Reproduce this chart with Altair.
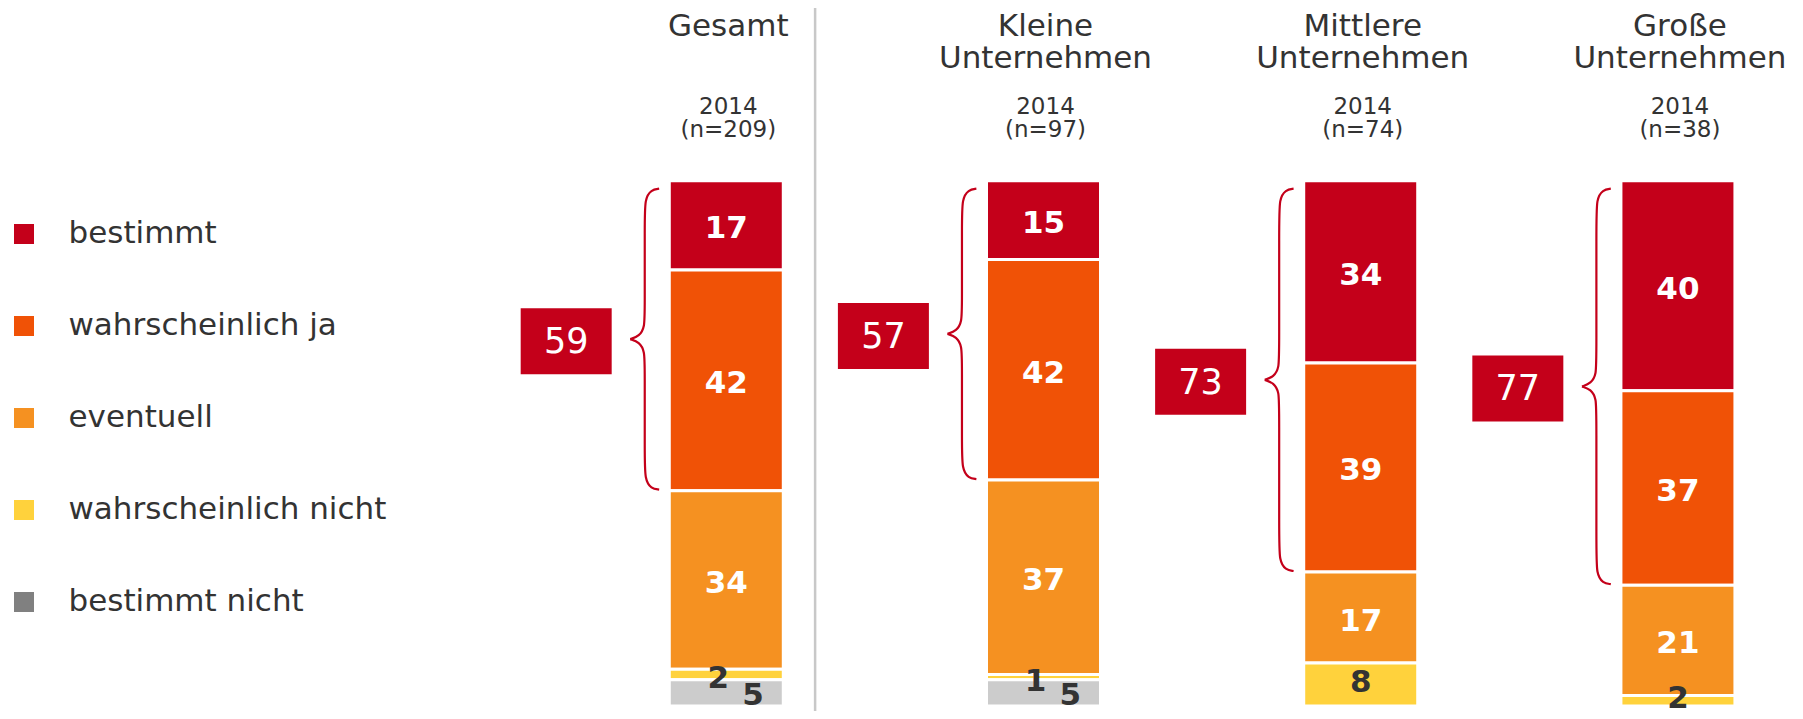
import altair as alt
import pandas as pd

# ---------------- data ----------------
groups = ["Gesamt", "Kleine Unternehmen", "Mittlere Unternehmen", "Große Unternehmen"]
title_line1 = ["Gesamt", "Kleine", "Mittlere", "Große"]
title_line2 = ["", "Unternehmen", "Unternehmen", "Unternehmen"]
years = ["2014", "2014", "2014", "2014"]
sample_sizes = [209, 97, 74, 38]

categories = ["bestimmt", "wahrscheinlich ja", "eventuell", "wahrscheinlich nicht", "bestimmt nicht"]
bestimmt = [17, 15, 34, 40]
wahrscheinlich_ja = [42, 42, 39, 37]
eventuell = [34, 37, 17, 21]
wahrscheinlich_nicht = [2, 1, 8, 2]
bestimmt_nicht = [5, 5, None, None]
top_two = [59, 57, 73, 77]

bar_colors = ["#C4001A", "#F05206", "#F59121", "#FFD23C", "#CCCCCC"]
legend_colors = ["#C4001A", "#F05206", "#F59121", "#FFD23C", "#808080"]
RED = "#C4001A"
DARK = "#333333"
FONT = "DejaVu Sans"

# ---------------- layout constants ----------------
W, H = 1787, 703          # whole chart (padding 0, autosize none)
STEP = 319.0              # px between group centres
X0 = 717.3                # px of first group centre
PXY = 525.3               # px for 100 %
Y0 = 172.7                # px of bar top
BAR_W = 111
LBL_DY = 4

xs = alt.Scale(domain=[-X0 / STEP, (W - X0) / STEP], nice=False, zero=False)
ys = alt.Scale(domain=[-Y0 / PXY, (H - Y0) / PXY], nice=False, zero=False, reverse=True)

# ---------------- long table ----------------
series = [bestimmt, wahrscheinlich_ja, eventuell, wahrscheinlich_nicht, bestimmt_nicht]
rows = []
for gi, g in enumerate(groups):
    for ci, cat in enumerate(categories):
        v = series[ci][gi]
        if v is not None:
            rows.append(dict(group=g, slot=gi, cat=cat, order=ci, value=v))
df = pd.DataFrame(rows)

base = alt.Chart(df).transform_joinaggregate(
    nseg="count()", groupby=["group"]
).transform_stack(
    stack="value", groupby=["group"], as_=["y0", "y1"],
    sort=[alt.SortField("order", order="ascending")], offset="normalize"
).transform_calculate(ym="(datum.y0 + datum.y1) / 2")

bars = base.mark_bar(size=BAR_W + 3, stroke="white", strokeWidth=3).encode(
    x=alt.X("slot:Q", scale=xs, axis=None),
    y=alt.Y("y0:Q", scale=ys, axis=None),
    y2="y1:Q",
    color=alt.Color("cat:N", scale=alt.Scale(domain=categories, range=bar_colors), legend=None),
)

big_labels = base.transform_filter(
    alt.FieldOneOfPredicate(field="cat", oneOf=categories[:3])
).mark_text(font=FONT, fontSize=31, fontWeight="bold", color="white", baseline="middle", dy=LBL_DY).encode(
    x=alt.X("slot:Q", scale=xs, axis=None),
    y=alt.Y("ym:Q", scale=ys, axis=None),
    text="value:Q",
)

# "wahrscheinlich nicht": shifted left when a "bestimmt nicht" label sits beside it
wn_side = base.transform_filter(
    (alt.datum.cat == "wahrscheinlich nicht") & (alt.datum.nseg > 4)
).transform_calculate(
    lx=f"datum.slot - 8 / {STEP}"
).mark_text(font=FONT, fontSize=31, fontWeight="bold", color=DARK, baseline="middle", dy=5).encode(
    x=alt.X("lx:Q", scale=xs, axis=None),
    y=alt.Y("ym:Q", scale=ys, axis=None),
    text="value:Q",
)
wn_centre = base.transform_filter(
    (alt.datum.cat == "wahrscheinlich nicht") & (alt.datum.nseg <= 4)
).mark_text(font=FONT, fontSize=31, fontWeight="bold", color=DARK, baseline="middle", dy=-2).encode(
    x=alt.X("slot:Q", scale=xs, axis=None),
    y=alt.Y("ym:Q", scale=ys, axis=None),
    text="value:Q",
)

bn_labels = base.transform_filter(
    alt.datum.cat == "bestimmt nicht"
).transform_calculate(
    lx=f"datum.slot + 27 / {STEP}"
).mark_text(font=FONT, fontSize=31, fontWeight="bold", color=DARK, baseline="middle", dy=3).encode(
    x=alt.X("lx:Q", scale=xs, axis=None),
    y=alt.Y("ym:Q", scale=ys, axis=None),
    text="value:Q",
)

# ---------------- boxes & braces ----------------
box_rows, brace_rows = [], []
for gi, g in enumerate(groups):
    total = sum(s[gi] for s in series if s[gi] is not None)
    yes = (bestimmt[gi] + wahrscheinlich_ja[gi]) / total
    ytop = 8 / PXY
    ybot = yes - 1 / PXY
    ymid = (ytop + ybot) / 2
    left = gi - (BAR_W / 2) / STEP
    box_rows.append(dict(group=g, bx=gi - 161 / STEP, yc=ymid + 2 / PXY,
                         by0=ymid + 2 / PXY - 33 / PXY, by1=ymid + 2 / PXY + 33 / PXY,
                         label=str(top_two[gi])))
    shape = [(-12, 0), (-20, 1), (-26.5, 10), (-26.5, 35), (-26.5, None, -30),
             (-26.5, None, -12), (-32, None, -3), (-41, None, 0)]
    for half, sign in (("top", 1), ("bot", -1)):
        for k, p in enumerate(shape):
            dx = p[0]
            if p[1] is not None:
                yy = (ytop + p[1] / PXY) if sign == 1 else (ybot - p[1] / PXY)
            else:
                yy = ymid + sign * p[2] / PXY
            brace_rows.append(dict(bid=f"{g}-{half}", k=k, bxp=left + dx / STEP, byp=yy))

box_df = pd.DataFrame(box_rows)
brace_df = pd.DataFrame(brace_rows)

boxes = alt.Chart(box_df).mark_bar(size=91, color=RED).encode(
    x=alt.X("bx:Q", scale=xs, axis=None),
    y=alt.Y("by0:Q", scale=ys, axis=None),
    y2="by1:Q",
)
box_text = alt.Chart(box_df).mark_text(font=FONT, fontSize=35, color="white", baseline="middle", dy=1).encode(
    x=alt.X("bx:Q", scale=xs, axis=None),
    y=alt.Y("yc:Q", scale=ys, axis=None),
    text="label:N",
)
braces = alt.Chart(brace_df).mark_line(interpolate="basis", color=RED, strokeWidth=2.2).encode(
    x=alt.X("bxp:Q", scale=xs, axis=None),
    y=alt.Y("byp:Q", scale=ys, axis=None),
    detail="bid:N",
    order="k:Q",
)

# ---------------- separator ----------------
sep = alt.Chart(pd.DataFrame({"sx": [0.28]})).mark_rule(color="#C8C8C8", strokeWidth=2.5).encode(
    x=alt.X("sx:Q", scale=xs, axis=None),
    y=alt.value(0),
    y2=alt.value(H),
)

# ---------------- titles ----------------
title_df = pd.DataFrame({
    "slot": list(range(len(groups))),
    "t1": title_line1,
    "t2": title_line2,
    "year": years,
    "n": [f"(n={n})" for n in sample_sizes],
})


def title_text(field, y, size):
    return alt.Chart(title_df).mark_text(
        font=FONT, fontSize=size, color=DARK, baseline="alphabetic", align="center", dx=2
    ).encode(x=alt.X("slot:Q", scale=xs, axis=None), y=alt.value(y), text=f"{field}:N")


t1 = title_text("t1", 28.2, 31)
t2 = title_text("t2", 60.2, 31)
sub_year = title_text("year", 105.5, 23)
sub_n = title_text("n", 129, 23)

# ---------------- legend ----------------
legend_layer = alt.Chart(pd.DataFrame({"cat": categories})).mark_square(opacity=0).encode(
    color=alt.Color(
        "cat:N",
        scale=alt.Scale(domain=categories, range=legend_colors),
        sort=categories,
        legend=alt.Legend(
            orient="none", legendX=0.5, legendY=210.5, title=None,
            symbolType="square", symbolSize=400, symbolStrokeWidth=0, symbolOpacity=1,
            labelFont=FONT, labelFontSize=31, labelColor=DARK, labelOffset=29,
            rowPadding=60, labelLimit=0, padding=0,
        ),
    )
)

chart = alt.layer(
    sep, bars, big_labels, wn_side, wn_centre, bn_labels, braces, boxes, box_text,
    t1, t2, sub_year, sub_n, legend_layer
).resolve_scale(color="independent").properties(
    width=W, height=H, padding=0, autosize=alt.AutoSizeParams(type="none")
).configure_view(stroke=None)

chart.save("out.html", embed_options={"renderer": "svg", "actions": False})
